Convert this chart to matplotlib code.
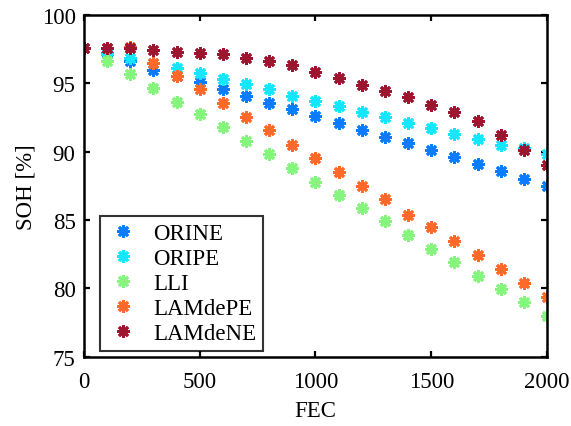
import numpy as np
import matplotlib.pyplot as plt

plt.rcParams['font.family'] = ['Liberation Serif', 'DejaVu Serif']

fec = np.arange(0, 2001, 100)

orine = [97.6, 97.2, 96.6, 96.0, 95.55, 95.1, 94.6, 94.05, 93.55, 93.1, 92.6,
         92.1, 91.6, 91.1, 90.6, 90.1, 89.6, 89.1, 88.6, 88.0, 87.5]
oripe = [97.6, 97.15, 96.85, 96.45, 96.1, 95.75, 95.3, 94.95, 94.55, 94.1, 93.7,
         93.3, 92.9, 92.5, 92.1, 91.7, 91.3, 90.9, 90.5, 90.3, 89.8]
lli = [97.6, 96.65, 95.65, 94.65, 93.65, 92.75, 91.8, 90.8, 89.85, 88.8, 87.8,
       86.8, 85.85, 84.9, 83.9, 82.9, 81.9, 80.9, 79.95, 79.0, 78.0]
lamdepe = [97.6, 97.6, 97.65, 96.5, 95.55, 94.6, 93.55, 92.5, 91.55, 90.5, 89.5,
           88.5, 87.5, 86.5, 85.4, 84.5, 83.5, 82.45, 81.4, 80.4, 79.35]
lamdene = [97.6, 97.6, 97.55, 97.4, 97.25, 97.2, 97.1, 96.85, 96.6, 96.3, 95.8,
           95.4, 94.9, 94.45, 94.0, 93.4, 92.9, 92.25, 91.25, 90.1, 89.0]

series = [
    ("ORINE", orine, "#0a7cff"),
    ("ORIPE", oripe, "#14e6ff"),
    ("LLI", lli, "#86f57e"),
    ("LAMdePE", lamdepe, "#ff6a2a"),
    ("LAMdeNE", lamdene, "#9e1530"),
]

fig = plt.figure(figsize=(5.71, 4.27), dpi=100)
ax = fig.add_axes([0.147, 0.162, 0.811, 0.801])

# eight-spoke asterisk marker
star = (8, 2, 0)
for name, vals, color in series:
    ax.plot(fec, vals, linestyle='none', marker=star, markersize=9,
            markeredgewidth=2.0, color=color, label=name)

ax.set_xlim(0, 2000)
ax.set_ylim(75, 100)
ax.set_xticks([0, 500, 1000, 1500, 2000])
ax.set_yticks([75, 80, 85, 90, 95, 100])
ax.tick_params(direction='in', length=4, width=1.6, top=True, right=True,
               labelsize=16.5)
ax.tick_params(axis='x', pad=10)
ax.tick_params(axis='y', pad=6)
for sp in ax.spines.values():
    sp.set_linewidth(1.8)

ax.set_xlabel("FEC", fontsize=16.5, labelpad=6)
ax.set_ylabel("SOH [%]", fontsize=16.5, labelpad=4)

leg = ax.legend(loc='lower left', bbox_to_anchor=(0.035, 0.018), fontsize=16.5,
                frameon=True, fancybox=False, borderpad=0.3, labelspacing=0.17,
                handlelength=1.4, handletextpad=0.6, borderaxespad=0)
leg.get_frame().set_edgecolor('black')
leg.get_frame().set_linewidth(1.5)

fig.savefig("out.png", dpi=100)
